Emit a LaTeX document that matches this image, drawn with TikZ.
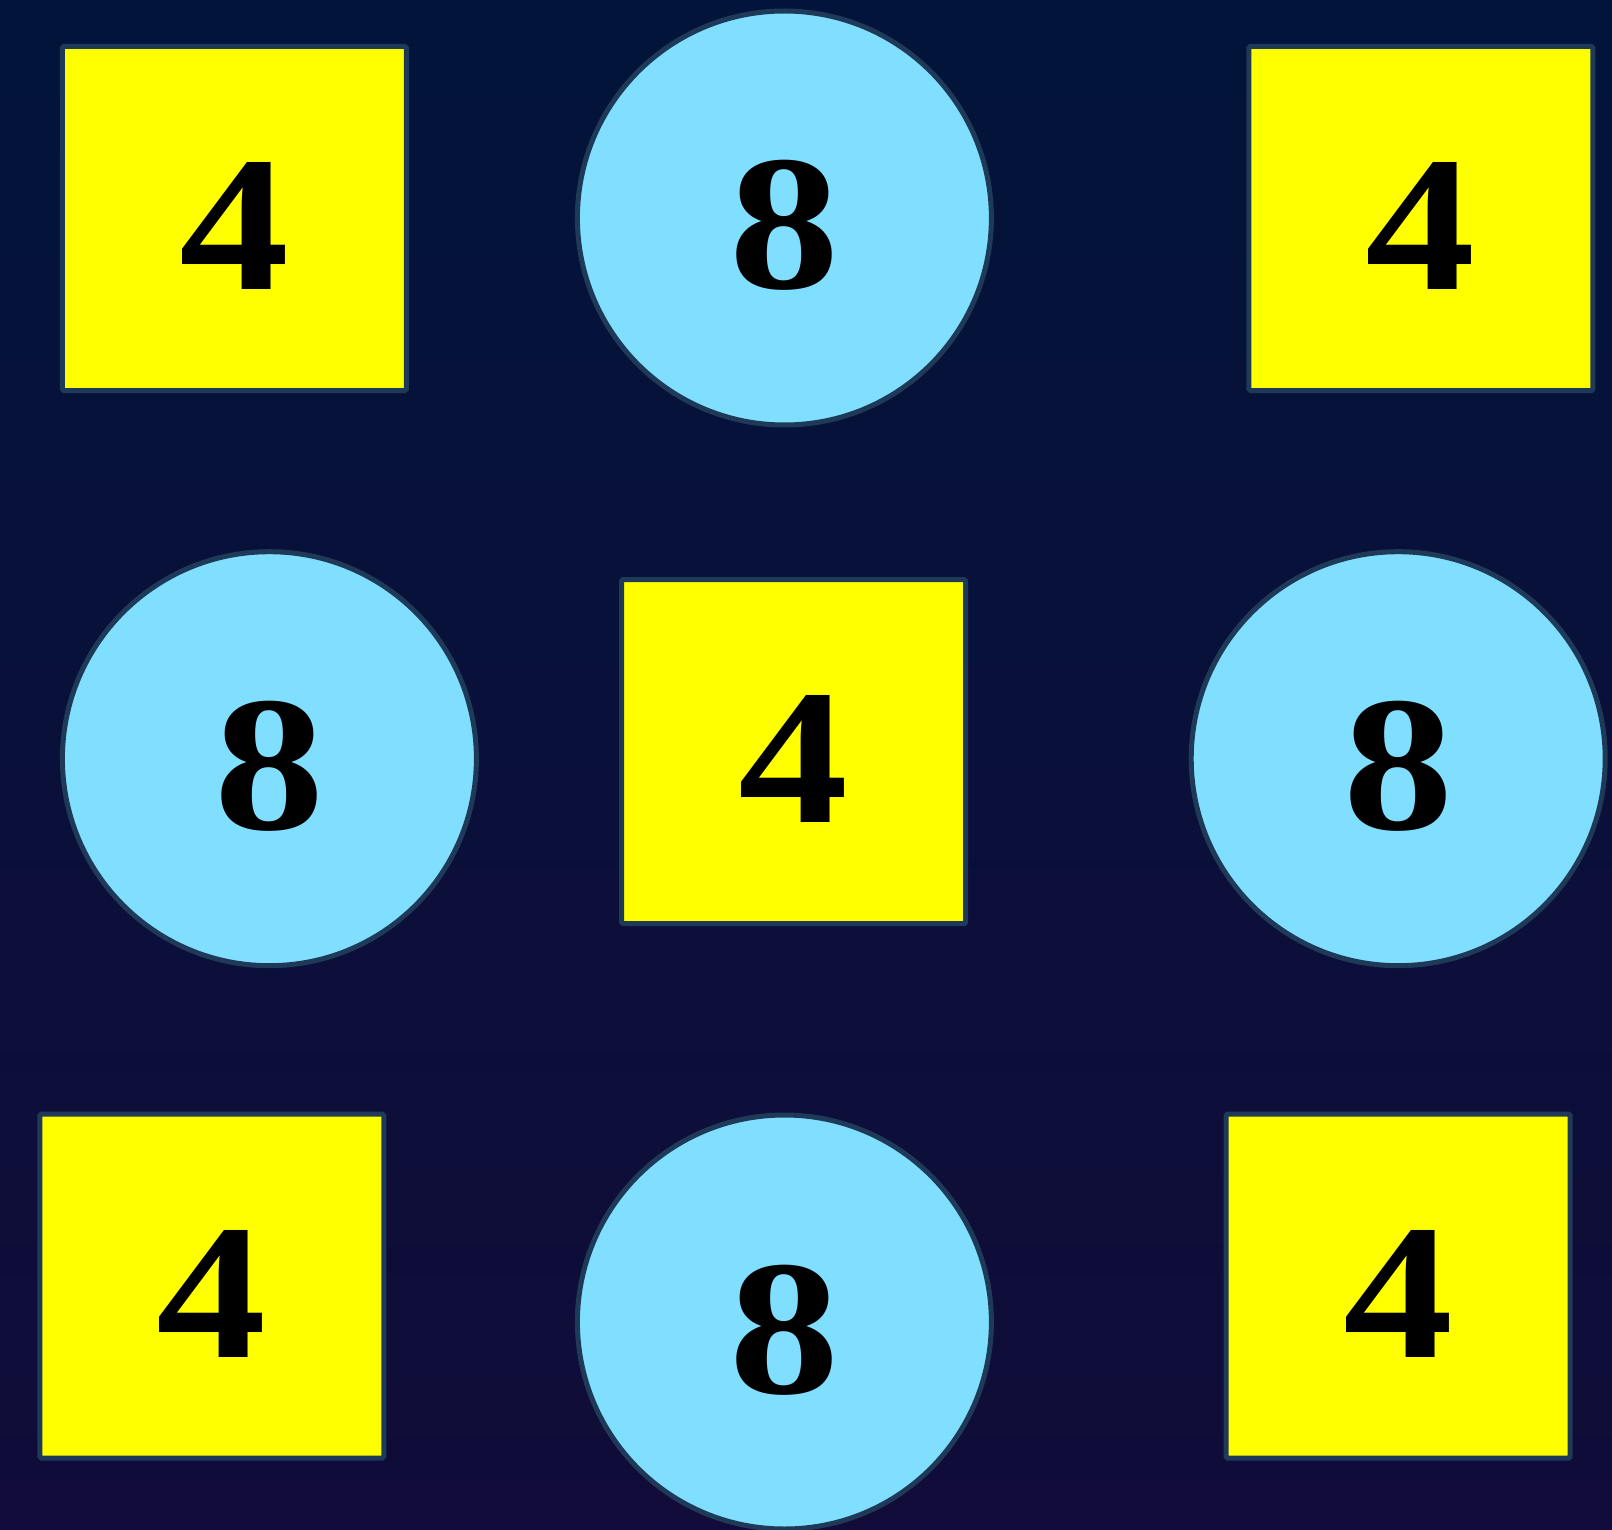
\documentclass[tikz,border=0pt]{standalone}
\usepackage{fontspec}
\setmainfont[FakeStretch=1.14]{Liberation Serif}
\definecolor{bgtop}{HTML}{02143A}
\definecolor{bgmid}{HTML}{05184A}
\definecolor{bgbot}{HTML}{110C39}
\definecolor{rimblue}{HTML}{1F3A58}
\definecolor{skyfill}{HTML}{80DFFF}
\definecolor{tileyellow}{HTML}{FFFF00}

\begin{document}
\begin{tikzpicture}[x=1pt, y=-1pt,
    tile/.style={draw=rimblue, line width=5pt, fill=tileyellow, rounded corners=1.5pt,
                 minimum size=344pt, inner sep=0pt},
    disc/.style={circle, draw=rimblue, line width=5pt, fill=skyfill,
                 minimum size=414pt, inner sep=0pt},
    digit/.style={font=\fontsize{193}{193}\selectfont\bfseries, text=black,
                  text height=142pt, text depth=0pt}
]
\shade[top color=bgtop, middle color=bgmid, bottom color=bgbot] (0,0) rectangle (1612,1530);
\useasboundingbox (0,0) rectangle (1612,1530);
% squares
\node[tile, digit] (sqTL) at (234.4,218.5) {4};
\node[tile, digit] (sqTR) at (1420.8,218.5) {4};
\node[tile, digit] (sqC) at (793.7,751.5) {4};
\node[tile, digit] (sqBL) at (211.8,1286) {4};
\node[tile, digit] (sqBR) at (1398.2,1286) {4};
% circles
\node[disc, digit] (ciT) at (784.4,218) {8};
\node[disc, digit] (ciL) at (269.4,758.7) {8};
\node[disc, digit] (ciR) at (1398.2,758.7) {8};
\node[disc, digit] (ciB) at (784.4,1322) {8};
\end{tikzpicture}
\end{document}
